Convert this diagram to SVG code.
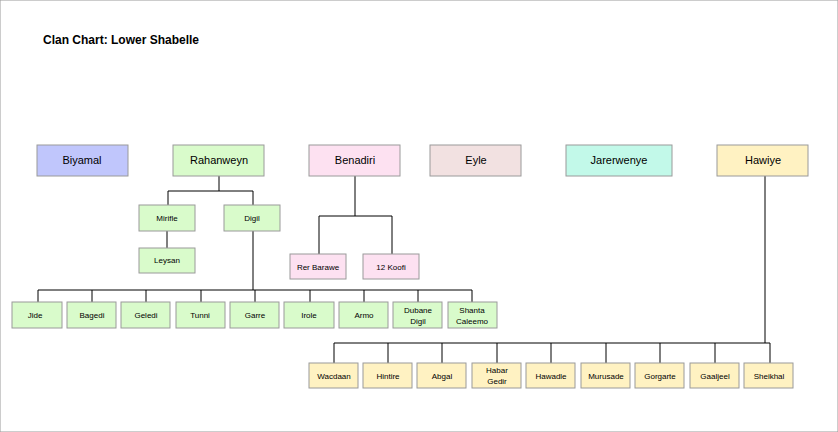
<svg xmlns="http://www.w3.org/2000/svg" width="838" height="432" viewBox="0 0 838 432">
<style>
text{font-family:"Liberation Sans",Arial,sans-serif;fill:#000;text-anchor:middle}
.t{font-size:11px}.s{font-size:8px}
rect{stroke:#9a9a9a;stroke-width:1}
.g{fill:#d9fbcb}.b{fill:#c0c6fc}.p{fill:#fde1f1}.e{fill:#f2e1e1}.j{fill:#c2f9e9}.y{fill:#fff2c2}
#connectors path{fill:none;stroke:#000;stroke-width:1}
</style>
<rect width="838" height="432" fill="#fff" stroke="none"/>
<text x="121" y="44" style="font-size:12px;font-weight:bold">Clan Chart: Lower Shabelle</text>
<g id="connectors">
<path d="M219 176V191M168 191H253M168 191V205M253 191V205M167 231V248"/>
<path d="M355 176V216M319 216H392M319 216V254M392 216V254"/>
<path d="M253 231V290M38 290H472M38 290V302M92 290V302M146 290V302M201 290V302M255 290V302M310 290V302M364 290V302M418 290V302M472 290V302"/>
<path d="M765 176V343M334 343H770M334 343V363M388 343V363M442 343V363M497 343V363M551 343V363M606 343V363M660 343V363M715 343V363M770 343V363"/>
</g>
<g id="biyamal"><rect class="b" x="37" y="145" width="91" height="31"/><text class="t" x="82" y="164">Biyamal</text></g>
<g id="rahanweyn"><rect class="g" x="173" y="145" width="91" height="31"/><text class="t" x="219" y="164">Rahanweyn</text></g>
<g id="benadiri"><rect class="p" x="309" y="145" width="91" height="31"/><text class="t" x="355" y="164">Benadiri</text></g>
<g id="eyle"><rect class="e" x="430" y="145" width="91" height="31"/><text class="t" x="476" y="164">Eyle</text></g>
<g id="jarerwenye"><rect class="j" x="566" y="145" width="106" height="31"/><text class="t" x="619" y="164">Jarerwenye</text></g>
<g id="hawiye"><rect class="y" x="717" y="145" width="91" height="31"/><text class="t" x="763" y="164">Hawiye</text></g>
<g id="mirifle"><rect class="g" x="139" y="205" width="56" height="26"/><text class="s" x="167" y="221">Mirifle</text></g>
<g id="digil"><rect class="g" x="224" y="205" width="56" height="26"/><text class="s" x="252" y="221">Digil</text></g>
<g id="leysan"><rect class="g" x="139" y="248" width="56" height="25"/><text class="s" x="167" y="263">Leysan</text></g>
<g id="rerbarawe"><rect class="p" x="290" y="254" width="56" height="25"/><text class="s" x="318" y="270">Rer Barawe</text></g>
<g id="koofi"><rect class="p" x="363" y="254" width="56" height="25"/><text class="s" x="391" y="270">12 Koofi</text></g>
<g id="jide"><rect class="g" x="12" y="302" width="50" height="26"/><text class="s" x="35" y="318">Jide</text></g>
<g id="bagedi"><rect class="g" x="67" y="302" width="49" height="26"/><text class="s" x="92" y="318">Bagedi</text></g>
<g id="geledi"><rect class="g" x="121" y="302" width="49" height="26"/><text class="s" x="146" y="318">Geledi</text></g>
<g id="tunni"><rect class="g" x="176" y="302" width="49" height="26"/><text class="s" x="200" y="318">Tunni</text></g>
<g id="garre"><rect class="g" x="230" y="302" width="49" height="26"/><text class="s" x="255" y="318">Garre</text></g>
<g id="irole"><rect class="g" x="284" y="302" width="50" height="26"/><text class="s" x="309" y="318">Irole</text></g>
<g id="armo"><rect class="g" x="339" y="302" width="49" height="26"/><text class="s" x="364" y="318">Armo</text></g>
<g id="dubane"><rect class="g" x="393" y="302" width="49" height="26"/><text class="s" x="418" y="313">Dubane</text><text class="s" x="418" y="324">Digil</text></g>
<g id="shanta"><rect class="g" x="448" y="302" width="49" height="26"/><text class="s" x="472" y="313">Shanta</text><text class="s" x="472" y="324">Caleemo</text></g>
<g id="wacdaan"><rect class="y" x="309" y="363" width="49" height="25"/><text class="s" x="334" y="379">Wacdaan</text></g>
<g id="hintire"><rect class="y" x="363" y="363" width="49" height="25"/><text class="s" x="388" y="379">Hintire</text></g>
<g id="abgal"><rect class="y" x="417" y="363" width="49" height="25"/><text class="s" x="442" y="379">Abgal</text></g>
<g id="habargedir"><rect class="y" x="472" y="363" width="49" height="25"/><text class="s" x="497" y="373">Habar</text><text class="s" x="497" y="384">Gedir</text></g>
<g id="hawadle"><rect class="y" x="526" y="363" width="49" height="25"/><text class="s" x="551" y="379">Hawadle</text></g>
<g id="murusade"><rect class="y" x="581" y="363" width="49" height="25"/><text class="s" x="606" y="379">Murusade</text></g>
<g id="gorgarte"><rect class="y" x="635" y="363" width="49" height="25"/><text class="s" x="660" y="379">Gorgarte</text></g>
<g id="gaaljeel"><rect class="y" x="690" y="363" width="49" height="25"/><text class="s" x="715" y="379">Gaaljeel</text></g>
<g id="sheikhal"><rect class="y" x="744" y="363" width="49" height="25"/><text class="s" x="769" y="379">Sheikhal</text></g>
</svg>
